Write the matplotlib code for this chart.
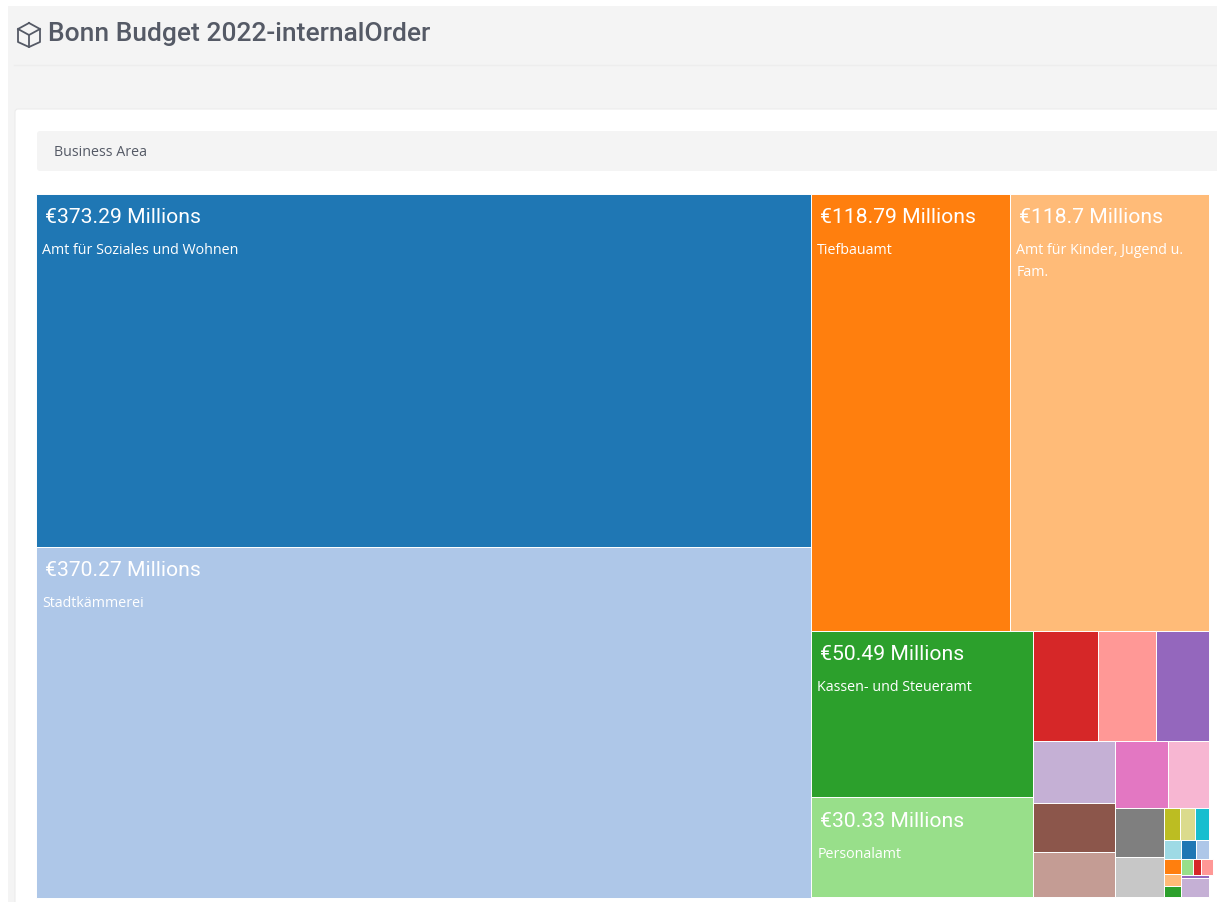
import matplotlib
matplotlib.use("Agg")
import matplotlib.pyplot as plt
from matplotlib.patches import Rectangle, FancyBboxPatch

plt.rcParams['font.family'] = ['Open Sans', 'DejaVu Sans']

TITLE = "Bonn Budget 2022-internalOrder"
FILTER_LABEL = "Business Area"

# budget per area in millions, only the big ones are labelled in the chart
names = ["Amt für Soziales und Wohnen", "Stadtkämmerei", "Tiefbauamt",
         "Amt für Kinder, Jugend u.\nFam.", "Kassen- und Steueramt", "Personalamt"]
top_values = [373.29, 370.27, 118.79, 118.7, 50.49, 30.33]
# the rest has no text
small_values = [9.8, 8.7, 7.9, 6.95, 5.5, 5.05, 4.84, 3.75, 3.3, 2.7,
                0.71, 0.67, 0.62, 0.44, 0.39, 0.33, 0.33, 0.28, 0.27,
                0.26, 0.17, 0.17, 0.12, 0.74]
values = top_values + small_values

# split order of the treemap: "h" = side by side, "v" = stacked
tree = ("h", [("v", [0, 1]),
    ("v", [("h", [2, 3]),
    ("h", [("v", [4, 5]),
    ("v", [("h", [6, 7, 8]),
    ("h", [("v", [9, 10, 11]),
    ("v", [("h", [12, 13]),
    ("h", [("v", [14, 15]),
    ("v", [("h", [16, 17, 18]), ("h", [19, 20, 21]),
    ("h", [("v", [22, 23, 24]),
    ("v", [("h", [25, 26, 27]), 28, 29])])])])])])])])])])

MAP_X, MAP_Y, MAP_W, MAP_H = 36, 194.5, 1173, 704
MIN_W = 12  # boxes never get narrower than this, later ones paint over them
TEXT_COLOR = "#555a66"
PAGE_COLOR = "#f4f4f4"

cmap = plt.get_cmap("tab20")


def total(node):
    if isinstance(node, int):
        return values[node]
    return sum(total(c) for c in node[1])


def layout(node, x, y, w, h, out):
    if isinstance(node, int):
        out.append((node, x, y, w, h))
        return
    s = total(node)
    for c in node[1]:
        part = total(c) / s
        if node[0] == "h":
            layout(c, x, y, w * part, h, out)
            x += w * part
        else:
            layout(c, x, y, w, h * part, out)
            y += h * part


fig = plt.figure(figsize=(12.17, 9.03), dpi=100)
ax = fig.add_axes([0, 0, 1, 1])
ax.set_xlim(0, 1217)
ax.set_ylim(903, 0)
ax.axis("off")

# page
ax.add_patch(Rectangle((8, 7), 1209, 896, fc=PAGE_COLOR, ec="none"))
ax.plot([14, 1217], [65.5, 65.5], color="#ededed", lw=1)
ax.add_patch(FancyBboxPatch((15, 110), 1230, 820, boxstyle="round,pad=0,rounding_size=3",
                            fc="white", ec="#ececec", lw=0.8))
ax.add_patch(FancyBboxPatch((37, 132), 1210, 40, boxstyle="round,pad=0,rounding_size=3",
                            fc=PAGE_COLOR, ec="none"))

# cube icon
ax.plot([29, 40, 40, 29, 18, 18, 29], [24, 30, 43, 48, 43, 30, 24], color=TEXT_COLOR, lw=1.3)
ax.plot([18, 29, 40], [30, 36, 30], color=TEXT_COLOR, lw=1.3)
ax.plot([29, 29], [36, 48], color=TEXT_COLOR, lw=1.3)

ax.text(48, 34.5, TITLE, fontsize=19, fontweight="medium", color=TEXT_COLOR, va="center",
        family="Roboto")
ax.text(54, 152, FILTER_LABEL, fontsize=10.3, color=TEXT_COLOR, va="center")

boxes = []
layout(tree, MAP_X, MAP_Y, MAP_W, MAP_H, boxes)
for i, x, y, w, h in boxes:
    ax.add_patch(Rectangle((x, y), max(w, MIN_W), h, fc=cmap(i % 20), ec="white", lw=0.7))
    if i < len(names):
        ax.text(x + 9, y + 23, f"€{values[i]:g} Millions", color="white", fontsize=15.2,
                va="center", family="Roboto")
        ax.text(x + 6.5, y + 48.5, names[i], color="white", fontsize=10.3, va="top",
                linespacing=1.6)

fig.savefig("out.png", dpi=100)
